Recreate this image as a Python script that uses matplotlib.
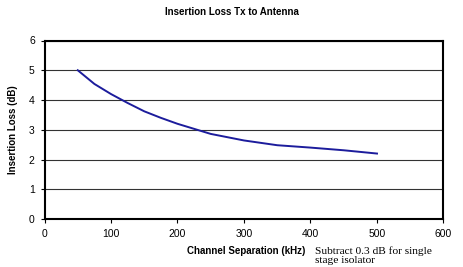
import matplotlib
matplotlib.use("Agg")
import matplotlib.pyplot as plt

# Data
separation_khz = [50, 75, 100, 125, 150, 175, 200, 250, 300, 350, 400, 450, 500]
insertion_loss_db = [5.0, 4.54, 4.2, 3.9, 3.62, 3.4, 3.2, 2.86, 2.64, 2.48, 2.4, 2.31, 2.2]
x_ticks = [0, 100, 200, 300, 400, 500, 600]
y_ticks = [0, 1, 2, 3, 4, 5, 6]

plt.rcParams["font.family"] = ["Liberation Sans", "DejaVu Sans"]

fig = plt.figure(figsize=(4.63, 2.67), dpi=100)
ax = fig.add_axes([44.5 / 463, 48 / 267, 399 / 463, 178.5 / 267])

ax.plot(separation_khz, insertion_loss_db, color="#1c1c9c", linewidth=1.4, zorder=3)

ax.set_xlim(0, 600)
ax.set_ylim(0, 6)
ax.set_xticks(x_ticks)
ax.set_yticks(y_ticks)
ax.tick_params(labelsize=7.5, length=3, width=0.8, direction="out", pad=4)
ax.grid(axis="y", color="#333333", linewidth=0.8)
ax.set_axisbelow(True)
for s in ax.spines.values():
    s.set_linewidth(1.5)
    s.set_color("black")

ax.set_ylabel("Insertion Loss (dB)", fontsize=7, fontweight="bold", labelpad=8)

fig.text(0.5, 1 - 12 / 267, "Insertion Loss Tx to Antenna", ha="center", va="center",
         fontsize=7, fontweight="bold")
fig.text(246 / 463, 1 - 251 / 267, "Channel Separation (kHz)", ha="center", va="center",
         fontsize=7, fontweight="bold")
fig.text(315 / 463, 1 - 255.5 / 267, "Subtract 0.3 dB for single\nstage isolator",
         ha="left", va="center", fontsize=8.2, family="Liberation Serif", linespacing=1.0)

fig.savefig("out.png", dpi=100)
